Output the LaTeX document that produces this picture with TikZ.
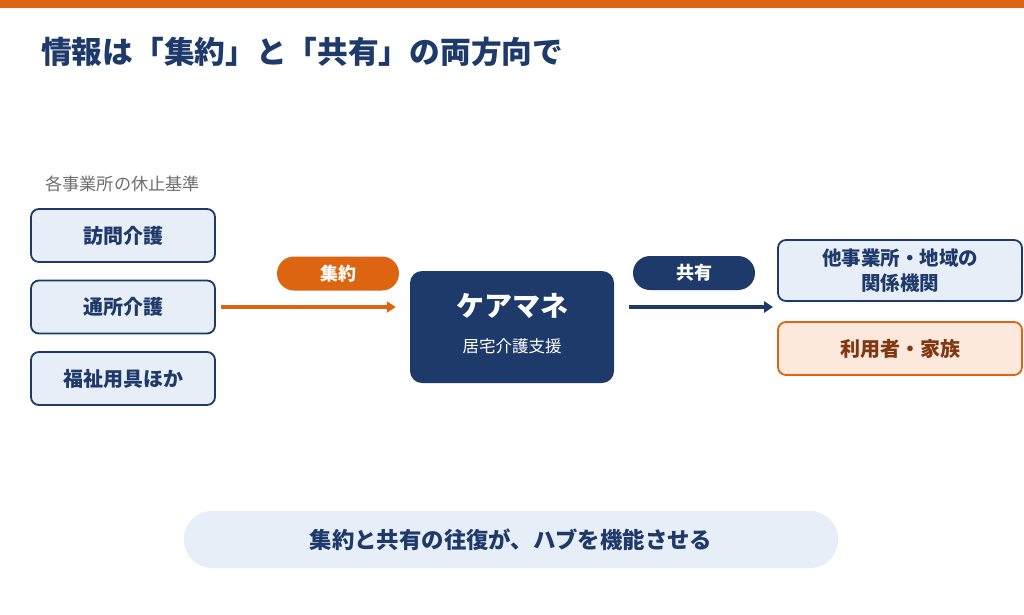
\documentclass[tikz,border=0pt]{standalone}
\usepackage{fontspec}
\setmainfont{Noto Sans CJK JP}
\usetikzlibrary{arrows.meta}
\definecolor{navy}{HTML}{1E3A6A}
\definecolor{orng}{HTML}{DD6410}
\definecolor{lblue}{HTML}{E8EEF7}
\definecolor{peach}{HTML}{FCE8DC}
\definecolor{brown}{HTML}{7E3812}
\definecolor{graytxt}{HTML}{6E6E6E}
\newcommand{\fs}[1]{\fontsize{#1pt}{\dimexpr #1pt*13/10\relax}\selectfont}
\tikzset{
  srcbox/.style={draw=navy, line width=1.8pt, fill=lblue, rounded corners=8pt,
    minimum width=184pt, minimum height=53pt, text=navy, font=\fs{20}\bfseries, inner sep=0pt},
  hubbox/.style={fill=navy, rounded corners=12pt, minimum width=204pt, minimum height=112pt, inner sep=0pt},
  pill/.style={rounded corners=17pt, minimum width=122pt, minimum height=34pt, text=white,
    font=\fs{18}\bfseries, inner sep=0pt},
  flow/.style={line width=4.5pt, -{Triangle[length=9pt,width=11pt]}},
}
\begin{document}
\begin{tikzpicture}[x=1pt,y=-1pt]
\useasboundingbox (0,0) rectangle (1024,614);
\fill[white] (0,0) rectangle (1024,614);
\fill[orng] (0,0) rectangle (1024,8);
\node[anchor=west, text=navy, font=\fs{30.7}\bfseries, inner sep=0pt] (title) at (41,52) {情報は「集約」と「共有」の両方向で};
\node[anchor=west, text=graytxt, font=\fs{17.2}, inner sep=0pt] (sub) at (45,184) {各事業所の休止基準};
\node[srcbox] (b1) at (123,235.5) {訪問介護};
\node[srcbox] (b2) at (123,307) {通所介護};
\node[srcbox] (b3) at (123,378.5) {福祉用具ほか};
\node[hubbox] (cm) at (512,327) {};
\node[text=white, font=\fs{28}\bfseries, inner sep=0pt] (cmt) at (512,306) {ケアマネ};
\node[text=white, font=\fs{16.5}, inner sep=0pt] (cms) at (512,346) {居宅介護支援};
\node[pill, fill=orng] (p1) at (338,273.5) {集約};
\node[pill, fill=navy] (p2) at (694,273) {共有};
\node[srcbox, minimum width=244pt, minimum height=61pt, font=\fs{19.5}\bfseries, align=center] (r1) at (900,270.5) {他事業所・地域の\\[-1pt]関係機関};
\node[srcbox, draw=orng, fill=peach, text=brown, minimum width=244pt, minimum height=53pt] (r2) at (900,348.5) {利用者・家族};
\draw[flow, orng, shorten <=5pt, shorten >=14pt] (b2.east) -- (cm.west |- b2.east);
\draw[flow, navy, shorten <=15pt, shorten >=4pt] (cm.east |- b2.east) -- (r1.west |- b2.east);
\node[fill=lblue, rounded corners=28pt, minimum width=654pt, minimum height=57pt, text=navy,
  font=\fs{22.4}\bfseries, inner sep=0pt] (bottom) at (511,539.5) {集約と共有の往復が、ハブを機能させる};
\end{tikzpicture}
\end{document}
